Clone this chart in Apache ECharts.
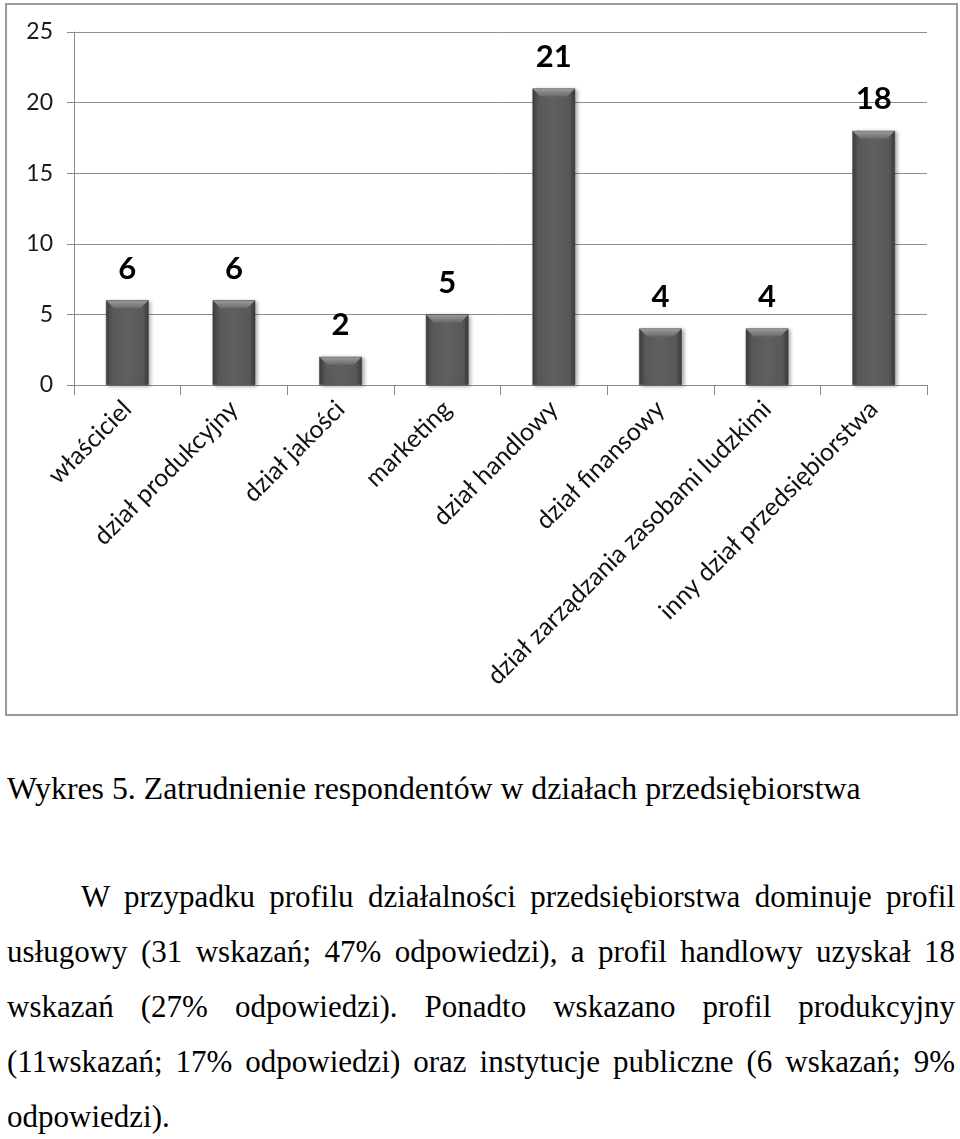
<!DOCTYPE html>
<html>
<head>
<meta charset="utf-8">
<script src="https://cdn.jsdelivr.net/npm/echarts@6/dist/echarts.min.js"></script>
<style>
  html, body { margin: 0; padding: 0; background: #fff; }
  #frame { position: absolute; left: 5px; top: 3px; width: 949px; height: 709px; border: 2px solid #9a9a9a; box-sizing: content-box; }
  #chart { position: absolute; left: 0; top: 0; width: 960px; height: 720px; }
  .txt { position: absolute; left: 7px; font-family: "Liberation Serif", "Times New Roman", serif; font-size: 31px; line-height: 55px; height: 55px; color: #000; white-space: nowrap; }
  .jl { width: 948px; text-align: justify; text-align-last: justify; }
</style>
</head>
<body>
<div id="frame"></div>
<div id="chart"></div>
<div class="txt" style="top:761px; font-size:31.8px">Wykres 5. Zatrudnienie respondentów w działach przedsiębiorstwa</div>
<div class="txt jl" style="top:869px; left:81px; width:874px">W przypadku profilu działalności przedsiębiorstwa dominuje profil</div>
<div class="txt jl" style="top:924px">usługowy (31 wskazań; 47% odpowiedzi), a profil handlowy uzyskał 18</div>
<div class="txt jl" style="top:979px">wskazań (27% odpowiedzi). Ponadto wskazano profil produkcyjny</div>
<div class="txt jl" style="top:1034px">(11wskazań; 17% odpowiedzi) oraz instytucje publiczne (6 wskazań; 9%</div>
<div class="txt" style="top:1089px">odpowiedzi).</div>
<script>
const categories = ['właściciel', 'dział produkcyjny', 'dział jakości', 'marketing', 'dział handlowy', 'dział finansowy', 'dział zarządzania zasobami ludzkimi', 'inny dział przedsiębiorstwa'];
const values = [6, 6, 2, 5, 21, 4, 4, 18];
const yTicks = [0, 5, 10, 15, 20, 25];

const chart = echarts.init(document.getElementById('chart'), null, { renderer: 'canvas' });

const barGradient = new echarts.graphic.LinearGradient(0, 0, 1, 0, [
  { offset: 0, color: '#3e3e3e' },
  { offset: 0.14, color: '#585858' },
  { offset: 0.5, color: '#606060' },
  { offset: 0.86, color: '#585858' },
  { offset: 1, color: '#3a3a3a' }
]);

const option = {
  animation: false,
  grid: { left: 74, right: 33, top: 32, bottom: 335, containLabel: false },
  xAxis: {
    type: 'category',
    data: categories,
    boundaryGap: true,
    axisLine: { show: true, lineStyle: { color: '#8a8a8a', width: 1 } },
    axisTick: { show: true, length: 10, lineStyle: { color: '#8a8a8a' } },
    axisLabel: {
      rotate: 45,
      interval: 0,
      margin: 20,
      fontFamily: 'Lato',
      fontSize: 25,
      color: '#111'
    }
  },
  yAxis: {
    type: 'value',
    min: yTicks[0],
    max: yTicks[yTicks.length - 1],
    interval: 5,
    axisLine: { show: true, lineStyle: { color: '#8a8a8a', width: 1 } },
    axisTick: { show: true, length: 7, lineStyle: { color: '#8a8a8a' } },
    splitLine: { show: true, lineStyle: { color: '#8f8f8f', width: 1 } },
    axisLabel: {
      margin: 21,
      fontFamily: 'Lato',
      fontSize: 23,
      color: '#1a1a1a'
    }
  },
  series: [
    {
      type: 'bar',
      data: values,
      barWidth: '40%',
      itemStyle: {
        color: barGradient,
        borderColor: '#3a3a3a',
        borderWidth: 0.5,
        shadowBlur: 4,
        shadowOffsetX: 2,
        shadowOffsetY: 1,
        shadowColor: 'rgba(0,0,0,0.35)'
      },
      label: {
        show: true,
        position: 'top',
        distance: 16,
        fontFamily: 'Lato',
        fontWeight: 'bold',
        fontSize: 31,
        color: '#000'
      },
      z: 2
    },
    {
      type: 'custom',
      data: values.map((v, i) => [i, v]),
      z: 3,
      silent: true,
      renderItem: function (params, api) {
        const top = api.coord([api.value(0), api.value(1)]);
        const bandW = api.size([1, 0])[0];
        const w = bandW * 0.4;
        const cx = top[0];
        const y = top[1];
        const b = 8;
        return {
          type: 'polygon',
          shape: { points: [[cx - w / 2 + 0.5, y + 0.5], [cx + w / 2 - 0.5, y + 0.5], [cx + w / 2 - b, y + b], [cx - w / 2 + b, y + b]] },
          style: {
            fill: new echarts.graphic.LinearGradient(0, 0, 0, 1, [
              { offset: 0, color: '#9a9a9a' },
              { offset: 1, color: '#6a6a6a' }
            ])
          }
        };
      }
    }
  ]
};
chart.setOption(option);
</script>
</body>
</html>
